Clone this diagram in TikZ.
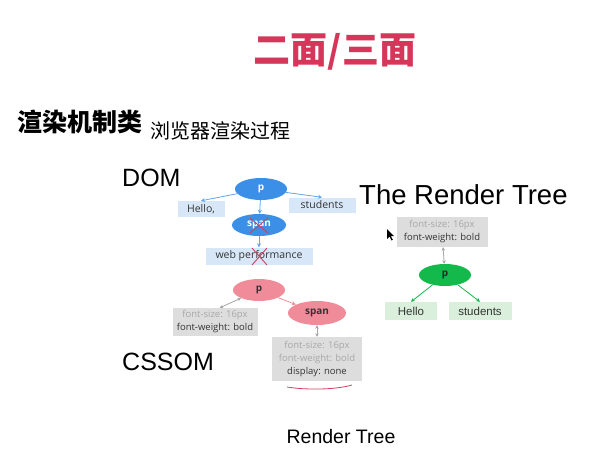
\documentclass[tikz,border=0pt]{standalone}
\usepackage{fontspec}
\setmainfont{Liberation Sans}
\newfontfamily\cjk{Noto Sans CJK SC}
\newfontfamily\boxfont{Open Sans}
\usetikzlibrary{arrows.meta,shapes.geometric}
\definecolor{titlered}{HTML}{D6365A}
\definecolor{domblue}{HTML}{3B8FE6}
\definecolor{domlight}{HTML}{D8E7F8}
\definecolor{csspink}{HTML}{F08C9A}
\definecolor{boxgray}{HTML}{DDDDDD}
\definecolor{lightgrtext}{HTML}{A8A8A8}
\definecolor{rtgreen}{HTML}{14B94C}
\definecolor{rtlight}{HTML}{DAF0DC}
\definecolor{xred}{HTML}{D04060}
\tikzset{
  x=1pt,y=-1pt,
  ell/.style={ellipse,minimum width=52pt,minimum height=22pt,inner sep=0pt,font=\boxfont\bfseries\fontsize{10}{11}\selectfont},
  domell/.style={ell,fill=domblue,text=white},
  cssell/.style={ell,fill=csspink,text=black!80},
  rtell/.style={ell,fill=rtgreen,text=black!85},
  leaf/.style={rectangle,inner sep=0pt,font=\boxfont\fontsize{10.5}{12}\selectfont,text=black!80},
  domleaf/.style={leaf,fill=domlight},
  rtleaf/.style={leaf,fill=rtlight,font=\fontsize{11.5}{13}\selectfont},
  propbox/.style={rectangle,fill=boxgray,inner sep=0pt,align=center,font=\boxfont\fontsize{9.5}{13}\selectfont,text=black!80},
  domarrow/.style={draw=domblue!80,line width=0.8pt,-{Stealth[length=4pt,width=4pt]}},
  cssarrow/.style={draw=csspink,line width=0.8pt,-{Stealth[length=4pt,width=4pt]}},
  grayarrow/.style={draw=black!35,line width=0.8pt,{Stealth[length=3.5pt,width=3.5pt]}-{Stealth[length=3.5pt,width=3.5pt]}},
  rtarrow/.style={draw=rtgreen,line width=0.8pt,-{Stealth[length=4pt,width=4pt]}},
  heading/.style={anchor=west,inner sep=0pt,font=\fontsize{25}{28}\selectfont},
  xmark/.style={draw=xred,line width=0.9pt}
}
\begin{document}
\begin{tikzpicture}
\useasboundingbox[fill=white] (0,0) rectangle (595,464);
% titles
\node[inner sep=0pt,text=titlered,font=\cjk\bfseries\fontsize{37}{40}\selectfont] (title) at (335,52) {二面/三面};
\node[anchor=west,inner sep=0pt,font=\cjk\bfseries\fontsize{25}{27}\selectfont] (cat) at (17,122) {渲染机制类};
\node[anchor=west,inner sep=0pt,font=\cjk\fontsize{20}{22}\selectfont] (sub) at (150,131) {浏览器渲染过程};
\node[heading] (domh) at (122,178) {DOM};
\node[heading,font=\fontsize{27.5}{30}\selectfont] (rth) at (359,195) {The Render Tree};
\node[heading] (cssh) at (122,362) {CSSOM};
\node[inner sep=0pt,font=\fontsize{19.5}{22}\selectfont] (rtcap) at (341,437) {Render Tree};
% DOM tree
\node[domell] (dp) at (261,189) {p};
\node[domleaf,minimum width=47pt,minimum height=16pt] (dhello) at (201,209) {Hello,};
\node[domleaf,minimum width=67pt,minimum height=15pt] (dstud) at (322,205) {students};
\node[domell,minimum width=54pt] (dspan) at (259,225) {span};
\node[domleaf,minimum width=107pt,minimum height=17pt] (dweb) at (259,256) {web performance};
\draw[domarrow] (dp) -- (dhello.north);
\draw[domarrow] (dp) -- (dstud.north);
\draw[domarrow] (dp) -- (dspan);
\draw[domarrow] (dspan) -- (dweb);
% red crosses
\draw[xmark] (dspan.center) ++(-9,-7) -- ++(18,15);
\draw[xmark] (dspan.center) ++(9,-7) -- ++(-18,15);
\draw[xmark] (dweb.center) ++(-7,-8) -- ++(15,17);
\draw[xmark] (dweb.center) ++(8,-8) -- ++(-15,17);
% CSSOM
\node[cssell] (cp) at (259,290) {p};
\node[propbox,minimum width=85pt,minimum height=28pt] (cbox1) at (215,322) {\textcolor{lightgrtext}{font-size: 16px}\\font-weight: bold};
\node[cssell,minimum width=58pt,minimum height=24pt] (cspan) at (317,313) {span};
\node[propbox,minimum width=90pt,minimum height=44pt] (cbox2) at (317,359) {\textcolor{lightgrtext}{font-size: 16px}\\\textcolor{lightgrtext}{font-weight: bold}\\display: none};
\draw[grayarrow] (cbox1.north east) ++(-38,0) coordinate (c1a) -- (cp);
\draw[cssarrow] (cp) -- (cspan);
\draw[grayarrow] (cspan) -- (cbox2);
\draw[xred,line width=0.8pt] (287,387) .. controls (305,390) and (335,390) .. (352,385);
% Render tree
\node[propbox,minimum width=91pt,minimum height=30pt] (rbox) at (442,232) {\textcolor{lightgrtext}{font-size: 16px}\\font-weight: bold};
\node[rtell] (rp) at (445,275) {p};
\node[rtleaf,minimum width=52pt,minimum height=18pt] (rhello) at (411,311) {Hello};
\node[rtleaf,minimum width=63pt,minimum height=18pt] (rstud) at (480,311) {students};
\draw[grayarrow] (rp) -- (rbox);
\draw[rtarrow] (rp) -- (rhello.north);
\draw[rtarrow] (rp) -- (rstud.north);
% mouse cursor
\fill[black] (387,229) -- (387,239) -- (389.5,236.5) -- (391.5,240.5) -- (392.8,239.8) -- (390.8,236) -- (394,236) -- cycle;
\end{tikzpicture}
\end{document}
